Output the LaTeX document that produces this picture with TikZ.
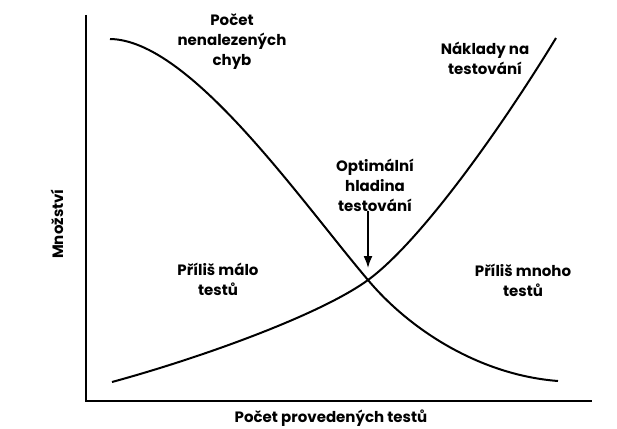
\documentclass[tikz,border=0pt]{standalone}
\usepackage{fontspec}
\setmainfont{Poppins}
\usetikzlibrary{positioning,arrows.meta}

\begin{document}
\begin{tikzpicture}[x=1pt, y=-1pt,
    popis/.style={align=center, inner sep=0pt, font=\fontsize{15}{20}\selectfont\bfseries},
    osa/.style={line width=2.4pt},
    krivka/.style={line width=2pt}]
      \useasboundingbox (0,0) rectangle (617,428);

      % osy
      \coordinate (ytop) at (86,15);
      \coordinate (O) at (86,401);
      \coordinate (xend) at (592,401);
      \draw[osa] (ytop) -- (O) -- (xend);

      % krivky
      \coordinate (prusecik) at (368,280);
      \draw[krivka] (110,39) .. controls (190,40) and (300,200) .. (prusecik)
        .. controls (410,330) and (480,375) .. (558,381);
      \draw[krivka] (112,382) .. controls (200,358) and (320,315) .. (prusecik)
        .. controls (420,242) and (500,130) .. (556,38);

      % popisky
      \node[popis] (chyby) at (232,42) {Počet\\nenalezených\\chyb};
      \node[popis] (naklady) at (485,58) {Náklady na\\testování};
      \node[popis] (opt) at (375,185) {Optimální\\hladina\\testování};
      \node[popis] (malo) at (218,279) {Příliš málo\\testů};
      \node[popis] (mnoho) at (523,280) {Příliš mnoho\\testů};
      \node[popis] (xlabel) at (331,418) {Počet provedených testů};
      \node[popis, rotate=90] (ylabel) at (57,224) {Množství};

      \draw[-{Latex[length=12pt,width=9pt]}, line width=1.6pt, shorten >=12pt] (opt.south -| prusecik) -- (prusecik);
    \end{tikzpicture}
\end{document}
